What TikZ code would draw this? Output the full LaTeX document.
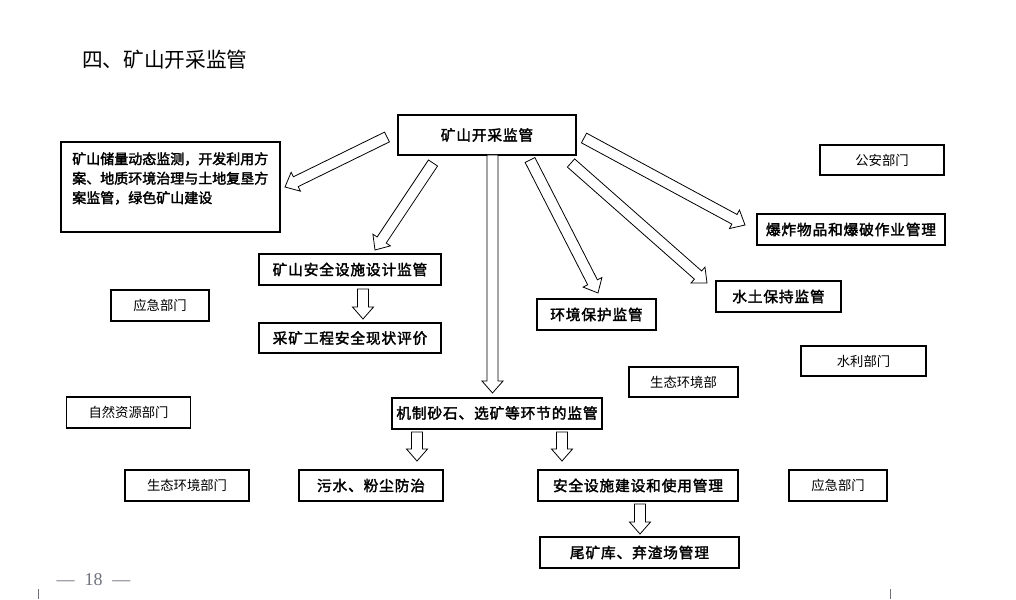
\documentclass[tikz,border=0pt]{standalone}
\usepackage{fontspec}
\setmainfont{Liberation Serif}
\newfontfamily\cjk{Noto Sans CJK SC}
\newfontfamily\cjkb[FakeBold=2.2,LetterSpace=6]{Noto Sans CJK SC}
\newfontfamily\cjkbig[FakeBold=2.2]{Noto Sans CJK SC}
\usetikzlibrary{calc}
\definecolor{pagegray}{RGB}{110,112,125}
\newcommand\hollowarrow[2]{%
  \coordinate (ha-h) at ($(#2)!9pt!(#1)$);
  \draw[hollow] ($(#1)!4.1pt!90:(#2)$) -- ($(ha-h)!4.1pt!90:(#2)$)
    -- ($(ha-h)!7.9pt!90:(#2)$) -- (#2) -- ($(ha-h)!7.9pt!-90:(#2)$)
    -- ($(ha-h)!4.1pt!-90:(#2)$) -- ($(#1)!4.1pt!-90:(#2)$) -- cycle;}
\tikzset{
  bx/.style 2 args={minimum width=#1*0.75pt, minimum height=#2*0.75pt},
  mainbox/.style={draw, line width=1.5pt, inner sep=0pt, align=center,
    font=\cjkb\fontsize{11pt}{13pt}\selectfont},
  deptbox/.style={draw, line width=0.8pt, inner sep=0pt, align=center,
    font=\cjk\fontsize{10pt}{12pt}\selectfont},
  hollow/.style={draw, line width=0.6pt, fill=white, line join=miter},
}
\begin{document}
\begin{tikzpicture}[x=0.75pt, y=-0.75pt]
\useasboundingbox (0,0) rectangle (1016,599);
% title
\node[anchor=west, inner sep=0pt, font=\cjk\fontsize{15.5pt}{18pt}\selectfont] (title) at (82,60) {四、矿山开采监管};
% supervision boxes
\node[mainbox, bx={178}{40}] (main) at (487,135) {矿山开采监管};
\node[mainbox, bx={219}{90}] (big) at (170.5,187) {};
\node[anchor=north west, inner sep=0pt, align=left,
  font=\cjkbig\fontsize{10.5pt}{14.6pt}\selectfont] (bigtext) at (72,152)
  {矿山储量动态监测，开发利用方\\案、地质环境治理与土地复垦方\\案监管，绿色矿山建设};
\node[mainbox, bx={182}{31}] (design) at (350,269.5) {矿山安全设施设计监管};
\node[mainbox, bx={182}{30}] (eval) at (350,338) {采矿工程安全现状评价};
\node[mainbox, bx={188}{31}] (blast) at (851,229.5) {爆炸物品和爆破作业管理};
\node[mainbox, bx={125}{31}] (soil) at (778.5,296.5) {水土保持监管};
\node[mainbox, bx={119}{31}] (env) at (596.5,314.5) {环境保护监管};
\node[mainbox, bx={210}{31}] (sand) at (497,413) {机制砂石、选矿等环节的监管};
\node[mainbox, bx={144}{31}] (dust) at (371,485.5) {污水、粉尘防治};
\node[mainbox, bx={200}{31}] (safe) at (638,485.5) {安全设施建设和使用管理};
\node[mainbox, bx={199}{31}] (tail) at (639.5,552.5) {尾矿库、弃渣场管理};
% department boxes
\node[deptbox, bx={98}{31}] (yj1) at (160,305.5) {应急部门};
\node[deptbox, bx={124}{30}] (police) at (882,160) {公安部门};
\node[deptbox, bx={125}{30}] (water) at (863.5,361) {水利部门};
\node[deptbox, bx={109}{30}] (eco1) at (683.5,382) {生态环境部};
\node[deptbox, bx={124}{31}] (nat) at (128.5,412.5) {自然资源部门};
\node[deptbox, bx={124}{31}] (eco2) at (187,485.5) {生态环境部门};
\node[deptbox, bx={98}{31}] (yj2) at (838,485.5) {应急部门};
% arrow end points
\coordinate (a1s) at (387,137);   \coordinate (a1e) at (285,187);
\coordinate (a2s) at (433,163);   \coordinate (a2e) at (375,250);
\coordinate (a3s) at (492.5,155); \coordinate (a3e) at (492.5,393);
\coordinate (a4s) at (530,160);   \coordinate (a4e) at (598,293);
\coordinate (a5s) at (571,163);   \coordinate (a5e) at (707,283);
\coordinate (a6s) at (584,138);   \coordinate (a6e) at (745,225);
\coordinate (a7s) at (363,289);   \coordinate (a7e) at (363,319);
\coordinate (a8s) at (417,432);   \coordinate (a8e) at (417,461);
\coordinate (a9s) at (562,432);   \coordinate (a9e) at (562,461);
\coordinate (a10s) at (640,504);  \coordinate (a10e) at (640,534);
\hollowarrow{a1s}{a1e}
\hollowarrow{a2s}{a2e}
\hollowarrow{a3s}{a3e}
\hollowarrow{a4s}{a4e}
\hollowarrow{a5s}{a5e}
\hollowarrow{a6s}{a6e}
\hollowarrow{a7s}{a7e}
\hollowarrow{a8s}{a8e}
\hollowarrow{a9s}{a9e}
\hollowarrow{a10s}{a10e}
% page footer
\node[text=pagegray, inner sep=0pt, font=\fontsize{13.5pt}{16pt}\selectfont] (page) at (93.5,580) {—\hspace{0.55em}18\hspace{0.55em}—};
\coordinate (tl1) at (38,589); \coordinate (tl2) at (38,599);
\coordinate (tr1) at (890,589); \coordinate (tr2) at (890,599);
\draw[pagegray, line width=0.6pt] (tl1) -- (tl2);
\draw[pagegray, line width=0.6pt] (tr1) -- (tr2);
\end{tikzpicture}
\end{document}
